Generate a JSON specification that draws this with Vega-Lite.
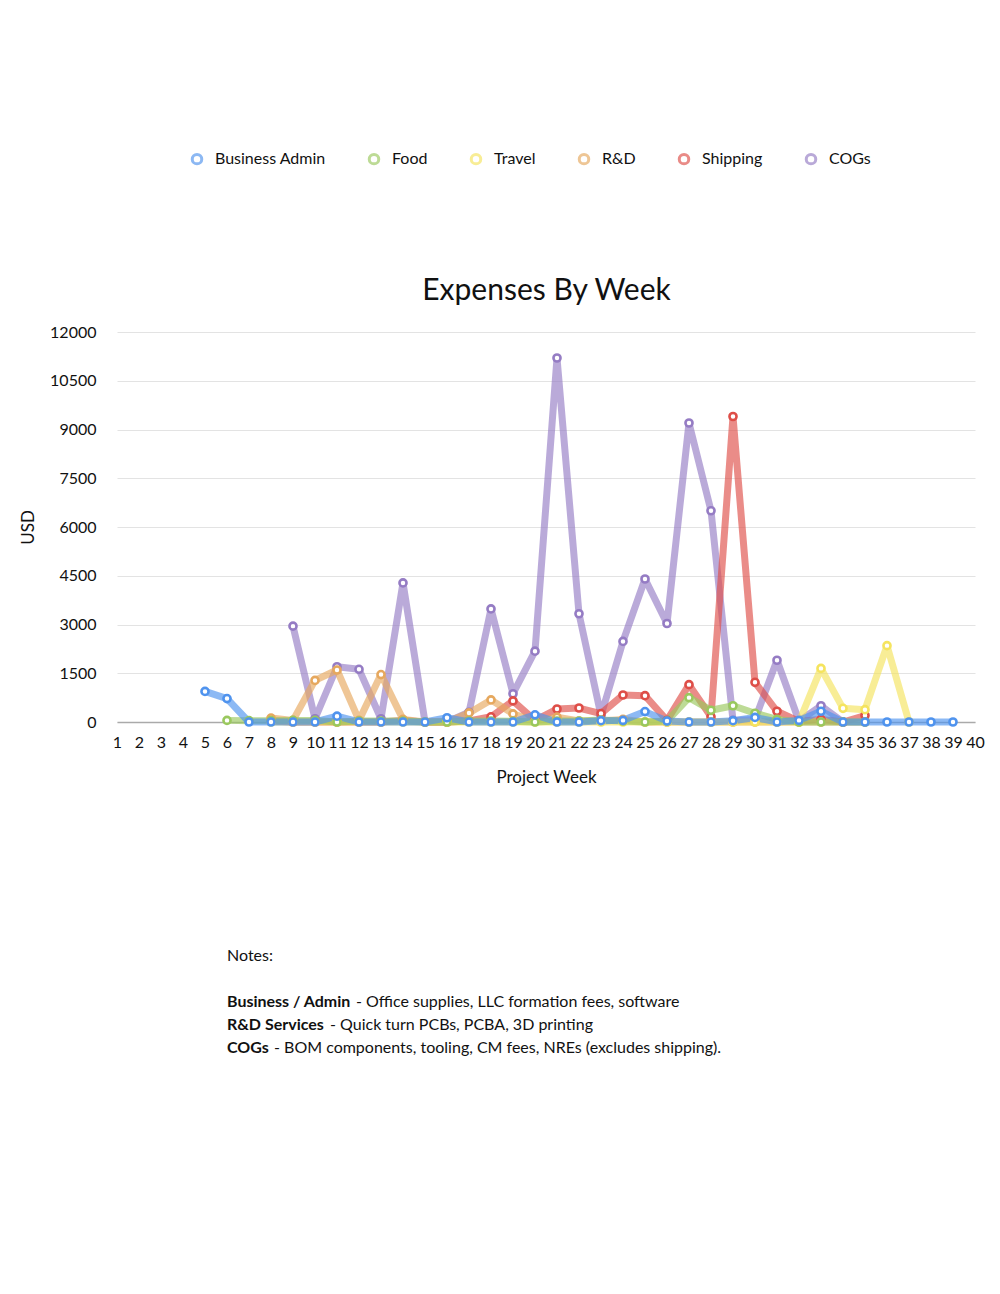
{
  "$schema": "https://vega.github.io/schema/vega-lite/v6.json",
  "padding": {"left": 19, "top": 151, "right": 0, "bottom": 0},
  "config": {
    "font": "Lato",
    "view": {"stroke": null},
    "axis": {"labelColor": "#111111", "titleColor": "#111111", "labelFont": "Lato", "titleFont": "Lato"},
    "legend": {"labelFont": "Lato"}
  },
  "datasets": {
    "expenses": [
      {"week": 9, "category": "COGs", "usd": 2950},
      {"week": 10, "category": "COGs", "usd": 100},
      {"week": 11, "category": "COGs", "usd": 1700},
      {"week": 12, "category": "COGs", "usd": 1620},
      {"week": 13, "category": "COGs", "usd": 100},
      {"week": 14, "category": "COGs", "usd": 4280},
      {"week": 15, "category": "COGs", "usd": 0},
      {"week": 16, "category": "COGs", "usd": 0},
      {"week": 17, "category": "COGs", "usd": 300},
      {"week": 18, "category": "COGs", "usd": 3480},
      {"week": 19, "category": "COGs", "usd": 870},
      {"week": 20, "category": "COGs", "usd": 2180},
      {"week": 21, "category": "COGs", "usd": 11200},
      {"week": 22, "category": "COGs", "usd": 3330},
      {"week": 23, "category": "COGs", "usd": 200},
      {"week": 24, "category": "COGs", "usd": 2480},
      {"week": 25, "category": "COGs", "usd": 4400},
      {"week": 26, "category": "COGs", "usd": 3030},
      {"week": 27, "category": "COGs", "usd": 9200},
      {"week": 28, "category": "COGs", "usd": 6500},
      {"week": 29, "category": "COGs", "usd": 50},
      {"week": 30, "category": "COGs", "usd": 80},
      {"week": 31, "category": "COGs", "usd": 1900},
      {"week": 32, "category": "COGs", "usd": 30},
      {"week": 33, "category": "COGs", "usd": 500},
      {"week": 34, "category": "COGs", "usd": 0},

      {"week": 8, "category": "Shipping", "usd": 30},
      {"week": 9, "category": "Shipping", "usd": 0},
      {"week": 10, "category": "Shipping", "usd": 0},
      {"week": 11, "category": "Shipping", "usd": 0},
      {"week": 12, "category": "Shipping", "usd": 0},
      {"week": 13, "category": "Shipping", "usd": 0},
      {"week": 14, "category": "Shipping", "usd": 50},
      {"week": 15, "category": "Shipping", "usd": 0},
      {"week": 16, "category": "Shipping", "usd": 0},
      {"week": 17, "category": "Shipping", "usd": 30},
      {"week": 18, "category": "Shipping", "usd": 160},
      {"week": 19, "category": "Shipping", "usd": 650},
      {"week": 20, "category": "Shipping", "usd": 50},
      {"week": 21, "category": "Shipping", "usd": 400},
      {"week": 22, "category": "Shipping", "usd": 430},
      {"week": 23, "category": "Shipping", "usd": 260},
      {"week": 24, "category": "Shipping", "usd": 830},
      {"week": 25, "category": "Shipping", "usd": 810},
      {"week": 26, "category": "Shipping", "usd": 50},
      {"week": 27, "category": "Shipping", "usd": 1150},
      {"week": 28, "category": "Shipping", "usd": 160},
      {"week": 29, "category": "Shipping", "usd": 9400},
      {"week": 30, "category": "Shipping", "usd": 1220},
      {"week": 31, "category": "Shipping", "usd": 330},
      {"week": 32, "category": "Shipping", "usd": 20},
      {"week": 33, "category": "Shipping", "usd": 80},
      {"week": 34, "category": "Shipping", "usd": 0},
      {"week": 35, "category": "Shipping", "usd": 200},

      {"week": 8, "category": "R&D", "usd": 120},
      {"week": 9, "category": "R&D", "usd": 50},
      {"week": 10, "category": "R&D", "usd": 1280},
      {"week": 11, "category": "R&D", "usd": 1600},
      {"week": 12, "category": "R&D", "usd": 50},
      {"week": 13, "category": "R&D", "usd": 1460},
      {"week": 14, "category": "R&D", "usd": 80},
      {"week": 15, "category": "R&D", "usd": 0},
      {"week": 16, "category": "R&D", "usd": 0},
      {"week": 17, "category": "R&D", "usd": 280},
      {"week": 18, "category": "R&D", "usd": 680},
      {"week": 19, "category": "R&D", "usd": 250},
      {"week": 20, "category": "R&D", "usd": 30},
      {"week": 21, "category": "R&D", "usd": 150},
      {"week": 22, "category": "R&D", "usd": 30},
      {"week": 23, "category": "R&D", "usd": 30},
      {"week": 24, "category": "R&D", "usd": 80},
      {"week": 25, "category": "R&D", "usd": 0},
      {"week": 26, "category": "R&D", "usd": 0},
      {"week": 27, "category": "R&D", "usd": 0},
      {"week": 28, "category": "R&D", "usd": 0},
      {"week": 29, "category": "R&D", "usd": 0},
      {"week": 30, "category": "R&D", "usd": 0},
      {"week": 31, "category": "R&D", "usd": 0},
      {"week": 32, "category": "R&D", "usd": 0},
      {"week": 33, "category": "R&D", "usd": 0},
      {"week": 34, "category": "R&D", "usd": 0},
      {"week": 35, "category": "R&D", "usd": 0},

      {"week": 8, "category": "Travel", "usd": 0},
      {"week": 9, "category": "Travel", "usd": 0},
      {"week": 10, "category": "Travel", "usd": 0},
      {"week": 11, "category": "Travel", "usd": 0},
      {"week": 12, "category": "Travel", "usd": 0},
      {"week": 13, "category": "Travel", "usd": 0},
      {"week": 14, "category": "Travel", "usd": 0},
      {"week": 15, "category": "Travel", "usd": 0},
      {"week": 16, "category": "Travel", "usd": 0},
      {"week": 17, "category": "Travel", "usd": 0},
      {"week": 18, "category": "Travel", "usd": 0},
      {"week": 19, "category": "Travel", "usd": 0},
      {"week": 20, "category": "Travel", "usd": 0},
      {"week": 21, "category": "Travel", "usd": 0},
      {"week": 22, "category": "Travel", "usd": 0},
      {"week": 23, "category": "Travel", "usd": 0},
      {"week": 24, "category": "Travel", "usd": 0},
      {"week": 25, "category": "Travel", "usd": 0},
      {"week": 26, "category": "Travel", "usd": 0},
      {"week": 27, "category": "Travel", "usd": 0},
      {"week": 28, "category": "Travel", "usd": 0},
      {"week": 29, "category": "Travel", "usd": 0},
      {"week": 30, "category": "Travel", "usd": 0},
      {"week": 31, "category": "Travel", "usd": 0},
      {"week": 32, "category": "Travel", "usd": 0},
      {"week": 33, "category": "Travel", "usd": 1650},
      {"week": 34, "category": "Travel", "usd": 420},
      {"week": 35, "category": "Travel", "usd": 380},
      {"week": 36, "category": "Travel", "usd": 2350},
      {"week": 37, "category": "Travel", "usd": 0},

      {"week": 6, "category": "Food", "usd": 50},
      {"week": 7, "category": "Food", "usd": 40},
      {"week": 8, "category": "Food", "usd": 40},
      {"week": 9, "category": "Food", "usd": 50},
      {"week": 10, "category": "Food", "usd": 50},
      {"week": 11, "category": "Food", "usd": 0},
      {"week": 12, "category": "Food", "usd": 30},
      {"week": 13, "category": "Food", "usd": 30},
      {"week": 14, "category": "Food", "usd": 30},
      {"week": 15, "category": "Food", "usd": 0},
      {"week": 16, "category": "Food", "usd": 0},
      {"week": 17, "category": "Food", "usd": 30},
      {"week": 18, "category": "Food", "usd": 30},
      {"week": 19, "category": "Food", "usd": 20},
      {"week": 20, "category": "Food", "usd": 0},
      {"week": 21, "category": "Food", "usd": 30},
      {"week": 22, "category": "Food", "usd": 30},
      {"week": 23, "category": "Food", "usd": 60},
      {"week": 24, "category": "Food", "usd": 30},
      {"week": 25, "category": "Food", "usd": 0},
      {"week": 26, "category": "Food", "usd": 30},
      {"week": 27, "category": "Food", "usd": 750},
      {"week": 28, "category": "Food", "usd": 360},
      {"week": 29, "category": "Food", "usd": 500},
      {"week": 30, "category": "Food", "usd": 270},
      {"week": 31, "category": "Food", "usd": 80},
      {"week": 32, "category": "Food", "usd": 0},
      {"week": 33, "category": "Food", "usd": 0},
      {"week": 34, "category": "Food", "usd": 0},
      {"week": 35, "category": "Food", "usd": 0},

      {"week": 5, "category": "Business Admin", "usd": 940},
      {"week": 6, "category": "Business Admin", "usd": 720},
      {"week": 7, "category": "Business Admin", "usd": 0},
      {"week": 8, "category": "Business Admin", "usd": 0},
      {"week": 9, "category": "Business Admin", "usd": 0},
      {"week": 10, "category": "Business Admin", "usd": 0},
      {"week": 11, "category": "Business Admin", "usd": 180},
      {"week": 12, "category": "Business Admin", "usd": 0},
      {"week": 13, "category": "Business Admin", "usd": 0},
      {"week": 14, "category": "Business Admin", "usd": 0},
      {"week": 15, "category": "Business Admin", "usd": 0},
      {"week": 16, "category": "Business Admin", "usd": 130},
      {"week": 17, "category": "Business Admin", "usd": 0},
      {"week": 18, "category": "Business Admin", "usd": 0},
      {"week": 19, "category": "Business Admin", "usd": 0},
      {"week": 20, "category": "Business Admin", "usd": 220},
      {"week": 21, "category": "Business Admin", "usd": 0},
      {"week": 22, "category": "Business Admin", "usd": 0},
      {"week": 23, "category": "Business Admin", "usd": 40},
      {"week": 24, "category": "Business Admin", "usd": 50},
      {"week": 25, "category": "Business Admin", "usd": 320},
      {"week": 26, "category": "Business Admin", "usd": 30},
      {"week": 27, "category": "Business Admin", "usd": 0},
      {"week": 28, "category": "Business Admin", "usd": 0},
      {"week": 29, "category": "Business Admin", "usd": 40},
      {"week": 30, "category": "Business Admin", "usd": 140},
      {"week": 31, "category": "Business Admin", "usd": 0},
      {"week": 32, "category": "Business Admin", "usd": 50},
      {"week": 33, "category": "Business Admin", "usd": 330},
      {"week": 34, "category": "Business Admin", "usd": 0},
      {"week": 35, "category": "Business Admin", "usd": 0},
      {"week": 36, "category": "Business Admin", "usd": 0},
      {"week": 37, "category": "Business Admin", "usd": 0},
      {"week": 38, "category": "Business Admin", "usd": 0},
      {"week": 39, "category": "Business Admin", "usd": 0}
    ],
    "notes": [
      {"line": 0, "term": "Notes:", "desc": ""},
      {"line": 2, "term": "Business / Admin", "desc": "- Office supplies, LLC formation fees, software"},
      {"line": 3, "term": "R&D Services", "desc": "- Quick turn PCBs, PCBA, 3D printing"},
      {"line": 4, "term": "COGs", "desc": "- BOM components, tooling, CM fees, NREs (excludes shipping)."}
    ]
  },
  "spacing": 163,
  "vconcat": [
    {
      "width": 858,
      "height": 390,
      "data": {"name": "expenses"},
      "encoding": {
        "x": {
          "field": "week", "type": "ordinal",
          "scale": {"type": "point", "padding": 0, "domain": [1,2,3,4,5,6,7,8,9,10,11,12,13,14,15,16,17,18,19,20,21,22,23,24,25,26,27,28,29,30,31,32,33,34,35,36,37,38,39,40]},
          "axis": {"orient": "bottom", "title": "Project Week", "labelAngle": 0, "labelFontSize": 16, "ticks": false, "domain": true, "domainColor": "#aaaaaa", "domainWidth": 1.5, "grid": false, "labelPadding": 12, "titleFontSize": 17, "titleFontWeight": "normal", "titlePadding": 19}
        },
        "y": {
          "field": "usd", "type": "quantitative",
          "scale": {"domain": [0, 12000], "nice": false},
          "axis": {"title": "USD", "format": "d", "values": [0,1500,3000,4500,6000,7500,9000,10500,12000], "ticks": false, "domain": false, "gridColor": "#e3e3e3", "labelFontSize": 16, "labelPadding": 21, "titleFontSize": 17, "titleFontWeight": "normal", "titlePadding": 12}
        },
        "color": {
          "field": "category", "type": "nominal",
          "scale": {
            "domain": ["Business Admin", "Food", "Travel", "R&D", "Shipping", "COGs"],
            "range": ["#4f93ee", "#9ac85e", "#f5e45e", "#e6a85e", "#de4e48", "#957cc4"]
          },
          "legend": {"orient": "none", "legendX": 72, "legendY": -181, "direction": "horizontal", "title": null, "labelFontSize": 16, "labelColor": "#111111", "symbolType": "circle", "symbolSize": 90, "symbolStrokeWidth": 3, "symbolFillColor": "white", "columnPadding": 37, "labelOffset": 10}
        }
      },
      "layer": [
        {"mark": {"type": "line", "strokeWidth": 7, "opacity": 0.65, "strokeJoin": "round", "strokeCap": "round"}},
        {
          "mark": {"type": "point", "filled": false, "fill": "white", "strokeWidth": 2.6, "size": 50, "opacity": 1},
          "encoding": {
            "x": {
              "field": "week", "type": "ordinal",
              "scale": {"type": "point", "padding": 0, "domain": [1,2,3,4,5,6,7,8,9,10,11,12,13,14,15,16,17,18,19,20,21,22,23,24,25,26,27,28,29,30,31,32,33,34,35,36,37,38,39,40]},
              "axis": {"orient": "top", "title": "Expenses By Week", "labels": false, "ticks": false, "domain": false, "grid": false, "titleFontSize": 30, "titleFontWeight": "normal", "titlePadding": 27}
            }
          }
        }
      ],
      "resolve": {"axis": {"x": "independent"}}
    },
    {
      "width": 220,
      "height": 92,
      "data": {"name": "notes"},
      "encoding": {
        "y": {"field": "line", "type": "ordinal", "scale": {"type": "point", "padding": 0, "domain": [0,1,2,3,4]}, "axis": null}
      },
      "layer": [
        {"transform": [{"filter": "datum.line == 0"}], "mark": {"type": "text", "align": "left", "baseline": "middle", "fontSize": 16, "color": "#111111"}, "encoding": {"text": {"field": "term"}}},
        {"transform": [{"filter": "datum.line > 0"}], "mark": {"type": "text", "align": "left", "baseline": "middle", "fontSize": 16, "fontWeight": "bold", "color": "#111111"}, "encoding": {"text": {"field": "term"}}},
        {"transform": [{"filter": "datum.line == 2"}], "mark": {"type": "text", "align": "left", "baseline": "middle", "fontSize": 16, "color": "#111111", "dx": 129}, "encoding": {"text": {"field": "desc"}}},
        {"transform": [{"filter": "datum.line == 3"}], "mark": {"type": "text", "align": "left", "baseline": "middle", "fontSize": 16, "color": "#111111", "dx": 103}, "encoding": {"text": {"field": "desc"}}},
        {"transform": [{"filter": "datum.line == 4"}], "mark": {"type": "text", "align": "left", "baseline": "middle", "fontSize": 16, "color": "#111111", "dx": 47}, "encoding": {"text": {"field": "desc"}}}
      ]
    }
  ]
}
